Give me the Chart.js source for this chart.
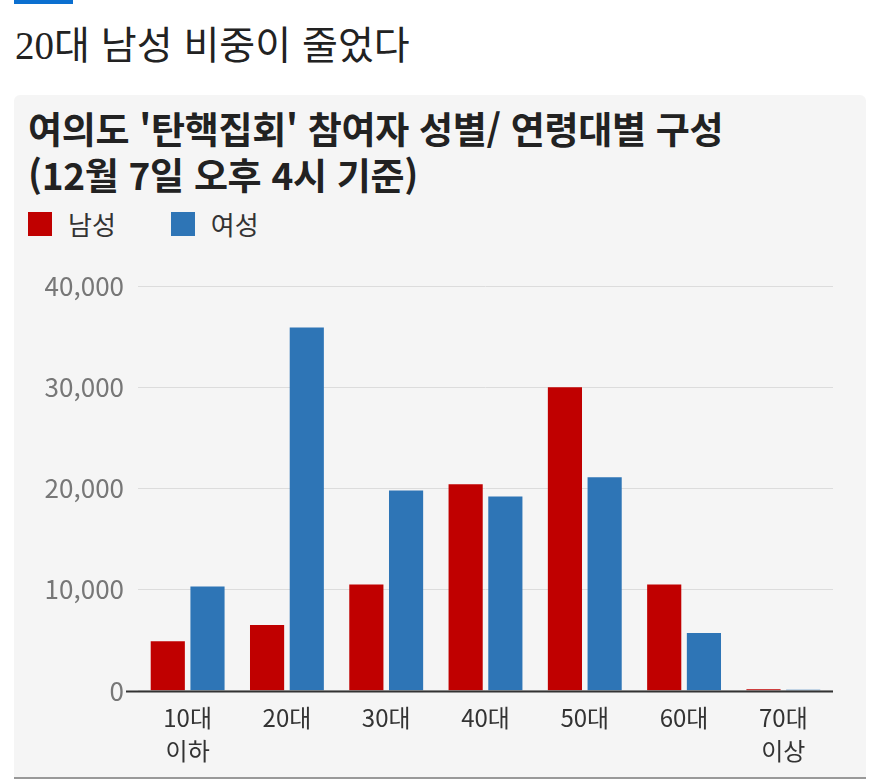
<!DOCTYPE html>
<html lang="ko">
<head>
<meta charset="UTF-8" />
<title>20대 남성 비중이 줄었다</title>
<script src="https://cdn.jsdelivr.net/npm/chart.js"></script>
<style>
    body { margin: 0; background: #fff; width: 872px; height: 782px; position: relative; overflow: hidden; font-family: 'Noto Sans CJK KR', sans-serif; }
    .topbar { position: absolute; left: 14px; top: 0; width: 59px; height: 4px; background: #0b6fd0; }
    .headline { position: absolute; left: 15px; top: 16px; font-size: 39px; color: #222; font-family: 'Liberation Serif', 'Noto Sans CJK KR', serif; line-height: 52px; }
    .headline span { font-family: 'Noto Sans CJK KR', sans-serif; }
    .card { position: absolute; left: 14px; top: 95px; width: 852px; height: 682px; background: #f5f5f5; border-radius: 6px 6px 0 0; border-bottom: 2px solid #999; }
    .title { position: absolute; left: 14px; top: 10px; font-size: 37px; font-weight: bold; color: #222; line-height: 46px; letter-spacing: -0.3px; }
    .legend { position: absolute; left: 14px; top: 110px; display: flex; font-size: 26px; color: #333; }
    .legend div { display: flex; align-items: center; margin-right: 55px; }
    .legend i { display: inline-block; width: 24px; height: 24px; margin-right: 16px; }
    .wrap { position: absolute; left: 0; top: 150px; width: 852px; height: 530px; }
</style>
</head>
<body>
<div class="topbar"></div>
<div class="headline">20<span>대 남성 비중이 줄었다</span></div>
<div class="card">
    <div class="title">여의도 '탄핵집회' 참여자 성별/ 연령대별 구성<br>(12월 7일 오후 4시 기준)</div>
    <div class="legend" id="legend"></div>
    <div class="wrap"><canvas id="chart"></canvas></div>
</div>
<script>
    const categories = [['10대', '이하'], '20대', '30대', '40대', '50대', '60대', ['70대', '이상']];
    const seriesNames = ['남성', '여성'];
    const seriesColors = ['#c00000', '#2e75b6'];
    const male = [4900, 6500, 10500, 20400, 30000, 10500, 150];
    const female = [10300, 35900, 19800, 19200, 21100, 5700, 100];
    const yTicks = [0, 10000, 20000, 30000, 40000];

    const legend = document.getElementById('legend');
    seriesNames.forEach((name, i) => {
        const d = document.createElement('div');
        d.innerHTML = `<i style="background:${seriesColors[i]}"></i>${name}`;
        legend.appendChild(d);
    });

    const baseline = {
        id: 'baseline',
        afterDatasetsDraw(chart) {
            const { ctx, chartArea, scales } = chart;
            const y = Math.round(scales.y.getPixelForValue(0)) + 0.5;
            ctx.save();
            ctx.strokeStyle = '#333';
            ctx.lineWidth = 2;
            ctx.beginPath();
            ctx.moveTo(chartArea.left - 12, y);
            ctx.lineTo(chartArea.right, y);
            ctx.stroke();
            ctx.restore();
        }
    };

    new Chart(document.getElementById('chart'), {
        type: 'bar',
        data: {
            labels: categories,
            datasets: [male, female].map((data, i) => ({
                label: seriesNames[i],
                data: data,
                backgroundColor: seriesColors[i],
                categoryPercentage: 0.8,
                barPercentage: 0.86
            }))
        },
        options: {
            responsive: true,
            maintainAspectRatio: false,
            animation: false,
            layout: { padding: { left: 14, right: 33, top: 41, bottom: 5 } },
            scales: {
                y: {
                    min: yTicks[0],
                    max: yTicks[yTicks.length - 1],
                    afterBuildTicks: s => { s.ticks = yTicks.map(v => ({ value: v })); },
                    afterFit: s => { s.width = 110; },
                    border: { display: false },
                    grid: { color: '#dcdcdc', drawTicks: false },
                    ticks: {
                        padding: 14,
                        color: '#777',
                        font: { family: 'Noto Sans CJK KR', size: 26 },
                        callback: v => v.toLocaleString('en-US')
                    }
                },
                x: {
                    border: { display: false },
                    grid: { display: false },
                    ticks: {
                        padding: 2,
                        color: '#333',
                        maxRotation: 0,
                        font: { family: 'Noto Sans CJK KR', size: 24, lineHeight: 1.4 }
                    }
                }
            },
            plugins: {
                legend: { display: false },
                tooltip: { enabled: false }
            }
        },
        plugins: [baseline]
    });
</script>
</body>
</html>
